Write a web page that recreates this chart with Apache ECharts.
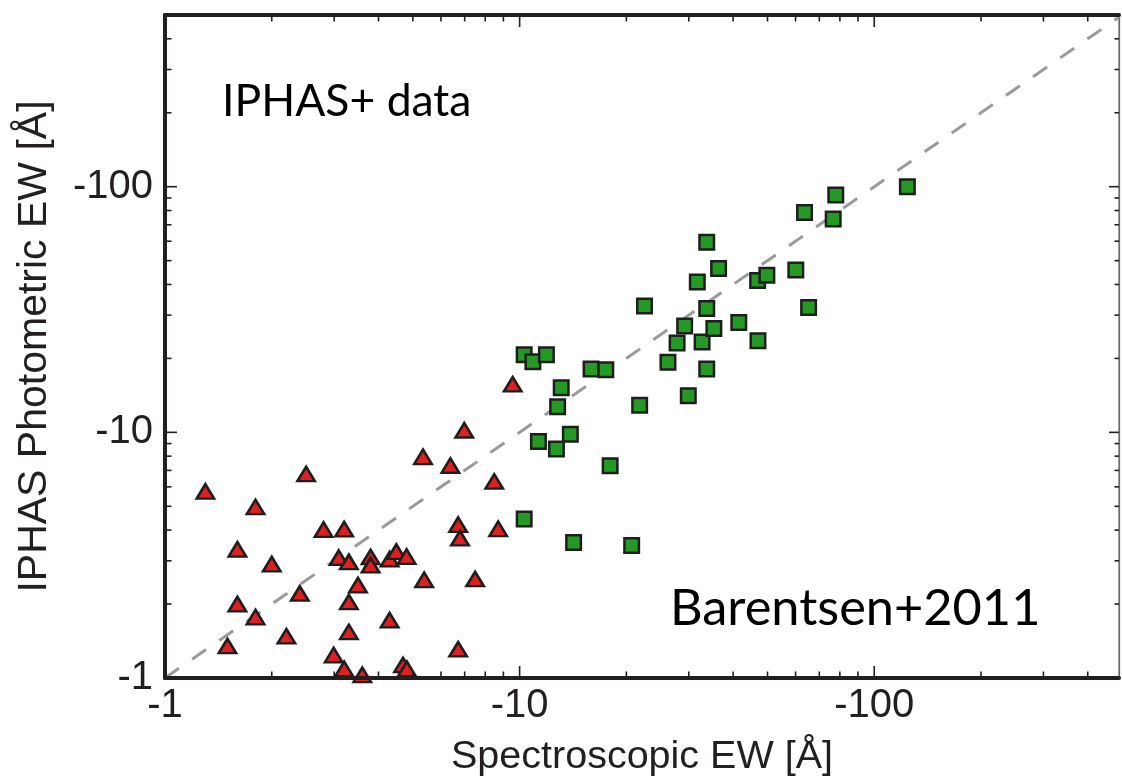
<!DOCTYPE html>
<html>
<head>
<meta charset="utf-8">
<script src="https://cdn.jsdelivr.net/npm/echarts@6/dist/echarts.min.js"></script>
<style>
  html, body { margin: 0; padding: 0; background: #ffffff; }
  #chart { width: 1122px; height: 782px; }
</style>
</head>
<body>
<div id="chart"></div>
<script>
// Equivalent widths in Å, stored as magnitudes (all values are negative; the sign is added in the labels)
const triangleSpecEW = [1.30, 1.80, 2.50, 2.80, 3.20, 1.60, 2.00, 3.09, 3.30, 3.80,
                        3.80, 4.30, 4.49, 4.80, 5.34, 6.38, 6.98, 8.48, 9.56, 6.71,
                        6.79, 8.70, 5.38, 7.49, 3.50, 3.30, 2.40, 1.60, 1.80, 1.50,
                        2.20, 3.30, 4.30, 6.71, 2.99, 3.20, 3.60, 4.69, 4.81];
const trianglePhotEW = [5.75, 4.97, 6.77, 4.02, 4.04, 3.34, 2.91, 3.09, 2.97, 3.11,
                        2.88, 3.05, 3.27, 3.12, 7.95, 7.33, 10.2, 6.31, 15.7, 4.21,
                        3.71, 4.05, 2.51, 2.53, 2.39, 2.04, 2.21, 2.00, 1.77, 1.35,
                        1.48, 1.54, 1.72, 1.31, 1.24, 1.09, 1.03, 1.13, 1.09];
const squareSpecEW = [10.3, 10.9, 11.9, 15.9, 17.5, 13.1, 12.8, 21.8, 11.3, 13.9,
                      12.7, 18.0, 10.3, 14.2, 20.7, 26.2, 27.8, 32.7, 33.7, 29.9,
                      29.2, 35.3, 41.5, 47.0, 22.5, 33.7, 65.3, 31.7, 36.4, 46.9,
                      49.8, 60.1, 33.7, 63.6, 76.6, 77.9, 124];
const squarePhotEW = [20.7, 19.4, 20.7, 18.1, 18.0, 15.2, 12.7, 12.9, 9.17, 9.82,
                      8.56, 7.32, 4.44, 3.56, 3.46, 19.3, 23.1, 23.3, 18.1, 14.1,
                      27.1, 26.5, 28.0, 23.6, 32.7, 31.9, 32.2, 40.9, 46.4, 41.5,
                      43.6, 45.8, 59.4, 78.5, 73.9, 92.6, 100];

// Axis ranges and log ticks
const xRange = [1, 490];
const yRange = [1, 500];
const majorTicks = [1, 10, 100];
const minorTicks = [2, 3, 4, 5, 6, 7, 8, 9, 20, 30, 40, 50, 60, 70, 80, 90, 200, 300, 400];
const tickLabels = ['-1', '-10', '-100'];

// One-to-one reference line
const oneToOne = [[1, 1], [490, 490]];

const INK = '#231f20';
const AXIS_FONT = '"Liberation Sans", Arial, Helvetica, sans-serif';

function zip(a, b) { return a.map((v, i) => [v, b[i]]); }

function labelFor(v) {
  const i = majorTicks.findIndex(t => Math.abs(t - v) / t < 1e-6);
  return i >= 0 ? tickLabels[i] : '';
}

// Tick marks on all four sides: [value, axis (0 = x, 1 = y), major flag]
const tickData = [];
[0, 1].forEach(axis => {
  majorTicks.forEach(v => tickData.push([v, axis, 1]));
  minorTicks.forEach(v => tickData.push([v, axis, 0]));
});

function renderTick(params, api) {
  const v = api.value(0);
  const axis = api.value(1);
  const major = api.value(2) === 1;
  const longSide = major ? 12 : 6.5;   // thick frame sides
  const shortSide = major ? 10 : 4.5;  // thin right side
  const style = { stroke: INK, lineWidth: 1.6 };
  if (axis === 0) {
    const b = api.coord([v, yRange[0]]);
    const t = api.coord([v, yRange[1]]);
    return { type: 'group', children: [
      { type: 'line', shape: { x1: b[0], y1: b[1], x2: b[0], y2: b[1] - longSide }, style },
      { type: 'line', shape: { x1: t[0], y1: t[1], x2: t[0], y2: t[1] + longSide }, style }
    ]};
  }
  const l = api.coord([xRange[0], v]);
  const r = api.coord([xRange[1], v]);
  return { type: 'group', children: [
    { type: 'line', shape: { x1: l[0], y1: l[1], x2: l[0] + longSide, y2: l[1] }, style },
    { type: 'line', shape: { x1: r[0], y1: r[1], x2: r[0] - shortSide, y2: r[1] }, style }
  ]};
}

const chart = echarts.init(document.getElementById('chart'), null, { renderer: 'canvas' });

chart.setOption({
  backgroundColor: '#ffffff',
  animation: false,
  grid: {
    left: 165, right: 1, top: 15, bottom: 104,
    show: true, borderColor: '#6b6b6b', borderWidth: 1.2, backgroundColor: 'transparent'
  },
  xAxis: [
    {
      type: 'log', logBase: 10, min: xRange[0], max: xRange[1], position: 'bottom', z: 5,
      name: 'Spectroscopic EW [Å]', nameLocation: 'middle', nameGap: 59,
      nameTextStyle: { fontFamily: AXIS_FONT, fontSize: 39.5, color: INK },
      axisLine: { show: true, lineStyle: { color: INK, width: 4 } },
      axisTick: { show: false }, minorTick: { show: false },
      splitLine: { show: false }, minorSplitLine: { show: false },
      axisLabel: { show: true, margin: 8, fontFamily: AXIS_FONT, fontSize: 40, color: INK,
                   formatter: labelFor, showMinLabel: true, showMaxLabel: true }
    },
    {
      type: 'log', logBase: 10, min: xRange[0], max: xRange[1], position: 'top', z: 5,
      axisLine: { show: true, lineStyle: { color: INK, width: 4 } },
      axisTick: { show: false }, axisLabel: { show: false }, splitLine: { show: false }
    }
  ],
  yAxis: [
    {
      type: 'log', logBase: 10, min: yRange[0], max: yRange[1], position: 'left', z: 5,
      name: 'IPHAS Photometric EW [Å]', nameLocation: 'middle', nameGap: 110, nameRotate: 90,
      nameTextStyle: { fontFamily: AXIS_FONT, fontSize: 41, color: INK },
      axisLine: { show: true, lineStyle: { color: INK, width: 4 } },
      axisTick: { show: false }, minorTick: { show: false },
      splitLine: { show: false }, minorSplitLine: { show: false },
      axisLabel: { show: true, margin: 12, fontFamily: AXIS_FONT, fontSize: 40, color: INK,
                   formatter: labelFor, showMinLabel: true, showMaxLabel: true }
    },
    {
      type: 'log', logBase: 10, min: yRange[0], max: yRange[1], position: 'right',
      axisLine: { show: true, lineStyle: { color: '#6b6b6b', width: 1.2 } },
      axisTick: { show: false }, axisLabel: { show: false }, splitLine: { show: false }
    }
  ],
  series: [
    {
      type: 'line', xAxisIndex: 0, yAxisIndex: 0, data: oneToOne,
      symbol: 'none', silent: true, z: 1,
      lineStyle: { color: '#9a9a9a', width: 3, type: [17, 16] }
    },
    {
      type: 'custom', xAxisIndex: 0, yAxisIndex: 0, data: tickData,
      renderItem: renderTick, clip: false, silent: true, z: 6
    },
    {
      name: 'IPHAS+ data', type: 'scatter', xAxisIndex: 0, yAxisIndex: 0,
      data: zip(triangleSpecEW, trianglePhotEW),
      symbol: 'triangle', symbolSize: [17.5, 14.5], z: 3,
      itemStyle: { color: '#dd2020', borderColor: '#1e1e1e', borderWidth: 2.5, opacity: 1 }
    },
    {
      name: 'Barentsen+2011', type: 'scatter', xAxisIndex: 0, yAxisIndex: 0,
      data: zip(squareSpecEW, squarePhotEW),
      symbol: 'rect', symbolSize: 14.5, z: 4,
      itemStyle: { color: '#249a24', borderColor: '#1e1e1e', borderWidth: 2.5, opacity: 1 }
    }
  ],
  graphic: [
    {
      type: 'text', z: 10,
      style: { text: 'IPHAS+ data', x: 222, y: 102, font: '44.5px Lato, "Open Sans", sans-serif',
               fill: '#000000', textAlign: 'left', align: 'left',
               textVerticalAlign: 'middle', verticalAlign: 'middle' }
    },
    {
      type: 'text', z: 10,
      style: { text: 'Barentsen+2011', x: 670, y: 609, font: '50.5px Lato, "Open Sans", sans-serif',
               fill: '#000000', textAlign: 'left', align: 'left',
               textVerticalAlign: 'middle', verticalAlign: 'middle' }
    }
  ]
});
</script>
</body>
</html>
